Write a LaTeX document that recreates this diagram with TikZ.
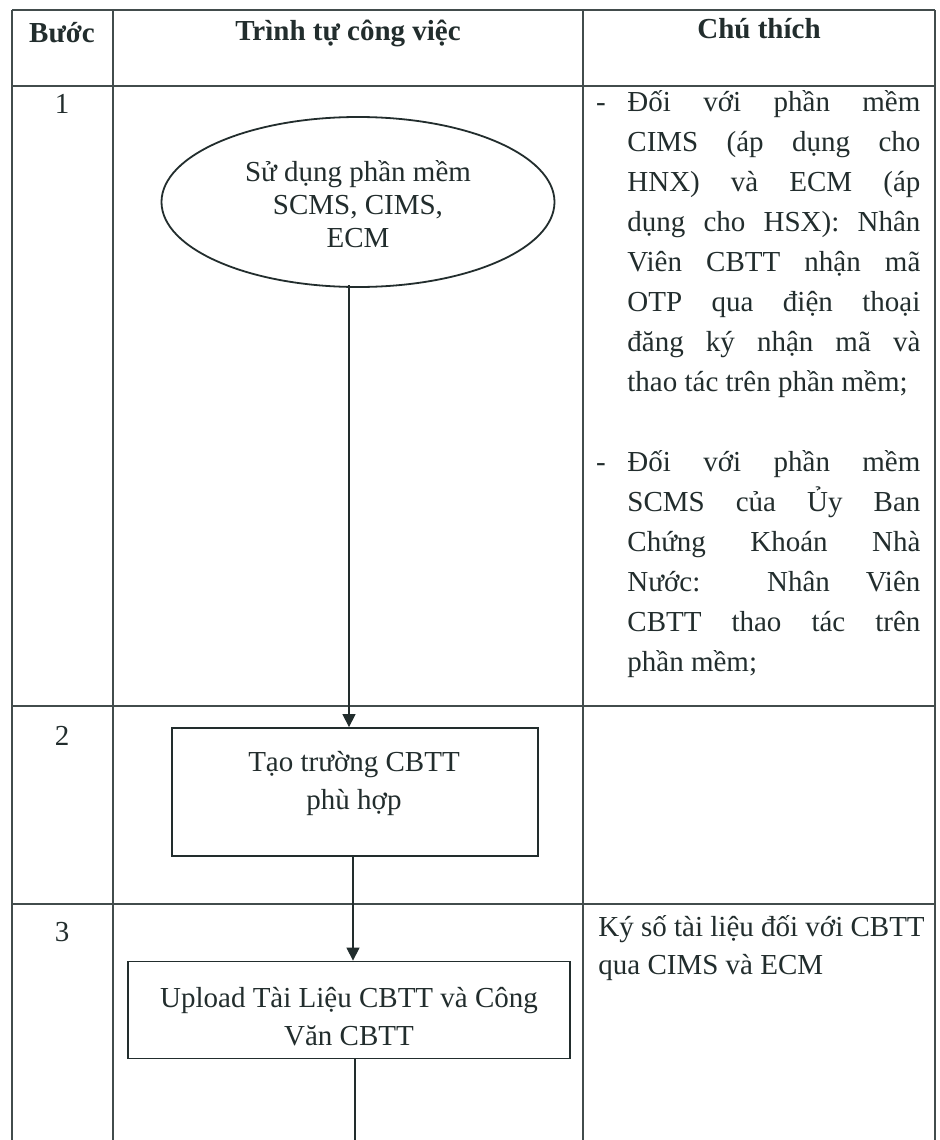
\documentclass[tikz,border=0pt]{standalone}
\usepackage{fontspec}
\setmainfont{Liberation Serif}
\usetikzlibrary{arrows.meta,shapes.geometric}
\definecolor{ink}{RGB}{34,45,45}
\definecolor{rulec}{RGB}{66,76,76}
\begin{document}
\begin{tikzpicture}[x=0.5pt,y=-0.5pt,
  txt/.style={inner sep=0pt, text=ink, font=\fontsize{14.5}{19}\selectfont},
  hdr/.style={inner sep=0pt, text=ink, font=\fontsize{14.5}{19}\selectfont\bfseries},
  jl/.style={txt, anchor=base west},
  tbl/.style={draw=rulec, line width=0.8pt},
  shp/.style={draw=ink, line width=0.9pt, fill=white},
  ln/.style={draw=ink, line width=0.6pt},
  arr/.style={ln, -{Triangle[length=6.5pt,width=6.5pt]}}]
\useasboundingbox (0,0) rectangle (939,1140);
\fill[white] (0,0) rectangle (939,1140);
% table
\draw[tbl] (12,10) -- (935,10);
\draw[tbl] (12,86) -- (935,86);
\draw[tbl] (12,706) -- (935,706);
\draw[tbl] (12,904) -- (935,904);
\draw[tbl] (12,10) -- (12,1140);
\draw[tbl] (113,10) -- (113,1140);
\draw[tbl] (583,10) -- (583,1140);
\draw[tbl] (935,10) -- (935,1140);
% headers
\node[hdr] (h1) at (62,33) {Bước};
\node[hdr] (h2) at (348,33) {Trình tự công việc};
\node[hdr] (h3) at (759,29) {Chú thích};
% step numbers
\node[txt, anchor=base] (n1) at (62,113) {1};
\node[txt, anchor=base] (n2) at (62,745) {2};
\node[txt, anchor=base] (n3) at (62,941) {3};
% flow shapes
\node[shp, ellipse, minimum width=196.5pt, minimum height=85pt, inner sep=0pt] (e) at (358,202) {};
\node[txt, align=center, font=\fontsize{14.5}{16.5}\selectfont] (et) at (358,204) {Sử dụng phần mềm\\SCMS, CIMS,\\ECM};
\node[shp, minimum width=183pt, minimum height=64pt, inner sep=0pt] (b2) at (355,792) {};
\node[txt, align=center] (t2) at (354,783) {Tạo trường CBTT\\phù hợp};
\node[shp, minimum width=221pt, minimum height=48.5pt, inner sep=0pt] (b3) at (349,1010) {};
\node[txt, align=center] (t3) at (349,1017) {Upload Tài Liệu CBTT và Công\\Văn CBTT};
% connectors
\coordinate (c1) at (349,285);
\coordinate (c2) at (353,0);
\coordinate (c3) at (355,1140);
\draw[arr] (c1) -- (c1 |- b2.north);
\draw[arr] (b2.south -| c2) -- (b3.north -| c2);
\draw[ln] (b3.south -| c3) -- (c3);
% notes column, block 1
\node[txt, anchor=base] (d1) at (601,111) {-};
\node[jl] (r1) at (627,111) {\makebox[146.5pt][s]{Đối với phần mềm}};
\node[jl] (r2) at (627,151) {\makebox[146.5pt][s]{CIMS (áp dụng cho}};
\node[jl] (r3) at (627,191) {\makebox[146.5pt][s]{HNX) và ECM (áp}};
\node[jl] (r4) at (627,231) {\makebox[146.5pt][s]{dụng cho HSX): Nhân}};
\node[jl] (r5) at (627,271) {\makebox[146.5pt][s]{Viên CBTT nhận mã}};
\node[jl] (r6) at (627,311) {\makebox[146.5pt][s]{OTP qua điện thoại}};
\node[jl] (r7) at (627,351) {\makebox[146.5pt][s]{đăng ký nhận mã và}};
\node[jl] (r8) at (627,391) {thao tác trên phần mềm;};
% block 2
\node[txt, anchor=base] (d2) at (601,471) {-};
\node[jl] (s1) at (627,471) {\makebox[146.5pt][s]{Đối với phần mềm}};
\node[jl] (s2) at (627,511) {\makebox[146.5pt][s]{SCMS của Ủy Ban}};
\node[jl] (s3) at (627,551) {\makebox[146.5pt][s]{Chứng Khoán Nhà}};
\node[jl] (s4) at (627,591) {\makebox[146.5pt][s]{Nước: Nhân Viên}};
\node[jl] (s5) at (627,631) {\makebox[146.5pt][s]{CBTT thao tác trên}};
\node[jl] (s6) at (627,671) {phần mềm;};
% row 3 note
\node[jl] (k1) at (598,936) {Ký số tài liệu đối với CBTT};
\node[jl] (k2) at (598,974) {qua CIMS và ECM};
\end{tikzpicture}
\end{document}
